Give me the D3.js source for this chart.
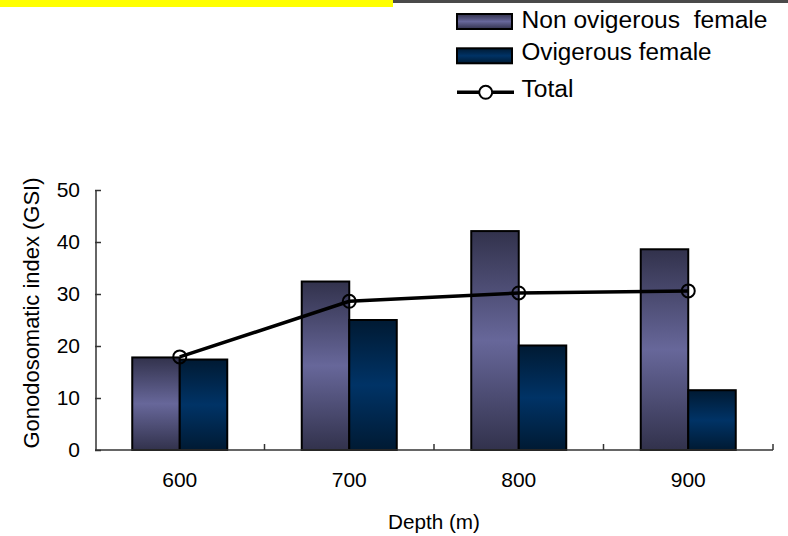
<!DOCTYPE html>
<html><head><meta charset="utf-8">
<script src="https://cdn.jsdelivr.net/npm/d3@7"></script>
<style>html,body{margin:0;padding:0;background:#fff}svg{display:block}text{font-family:"Liberation Sans",Arial,sans-serif;fill:#000}</style>
</head><body>
<svg id="c" width="788" height="536"></svg>
<script>
const categories = ["600","700","800","900"];
const seriesNames = ["Non ovigerous  female","Ovigerous female"];
const nonOvigerous = [17.8, 32.4, 42.1, 38.6];
const ovigerous = [17.4, 25.0, 20.1, 11.5];
const total = [17.9, 28.6, 30.2, 30.6];
const yTicks = [0,10,20,30,40,50];
const lineName = "Total";
const xTitle = "Depth (m)";
const yTitle = "Gonodosomatic index (GSI)";

const svg = d3.select("#c");
const defs = svg.append("defs");
function grad(id, edge, mid){
  const g = defs.append("linearGradient").attr("id",id).attr("x1",0).attr("y1",0).attr("x2",0).attr("y2",1);
  g.append("stop").attr("offset","0%").attr("stop-color",edge);
  g.append("stop").attr("offset","50%").attr("stop-color",mid);
  g.append("stop").attr("offset","100%").attr("stop-color",edge);
}
grad("gNon","#32324c","#67679a");
grad("gOv","#001a33","#003366");
const fills = ["url(#gNon)","url(#gOv)"];

// top decorations
svg.append("rect").attr("x",0).attr("y",0).attr("width",393).attr("height",7).attr("fill","#ffff00");
svg.append("rect").attr("x",393).attr("y",0).attr("width",395).attr("height",3).attr("fill","#4a4a4a");

const x0 = d3.scaleBand().domain(categories).range([95,773]).padding(0);
const x1 = d3.scaleBand().domain([0,1]).range([0,x0.bandwidth()]).paddingInner(0).paddingOuter(0.784);
const y = d3.scaleLinear().domain([0,50]).range([450,190]);

const data = categories.map((c,i)=>({c, vals:[nonOvigerous[i], ovigerous[i]]}));
const grp = svg.append("g").selectAll("g").data(data).join("g")
  .attr("transform",d=>`translate(${x0(d.c)},0)`);
grp.selectAll("rect").data(d=>d.vals.map((v,k)=>({v,k}))).join("rect")
  .attr("x",d=>x1(d.k)).attr("width",x1.bandwidth())
  .attr("y",d=>y(d.v)).attr("height",d=>y(0)-y(d.v))
  .attr("fill",d=>fills[d.k]).attr("stroke","#000").attr("stroke-width",2);

// axes
const yAxis = d3.axisLeft(y).tickValues(yTicks).tickSize(-6).tickPadding(20);
const gy = svg.append("g").attr("transform","translate(95,0)").call(yAxis);
gy.select(".domain").attr("stroke","#333").attr("stroke-width",1.5).attr("d","M1,190V450");
gy.selectAll(".tick line").attr("stroke","#333").attr("stroke-width",1.5);
gy.selectAll(".tick text").attr("font-size",21).attr("font-family","Liberation Sans, Arial").attr("fill","#000").attr("x",-15);

const xb = d3.scaleLinear().domain([0,4]).range([95,773]);
const gx = svg.append("g").attr("transform","translate(0,450)");
gx.append("line").attr("x1",95).attr("x2",773).attr("y1",0).attr("y2",0).attr("stroke","#333").attr("stroke-width",1.5);
gx.selectAll("line.t").data(d3.range(1,5)).join("line").attr("class","t")
  .attr("x1",d=>xb(d)).attr("x2",d=>xb(d)).attr("y1",0).attr("y2",-6).attr("stroke","#333").attr("stroke-width",1.5);
gx.selectAll("text").data(categories).join("text")
  .attr("x",d=>x0(d)+x0.bandwidth()/2).attr("y",36.5).attr("text-anchor","middle").attr("font-size",21).text(d=>d);

// line
const cx = d=>x0(d)+x0.bandwidth()/2;
const lineData = categories.map((c,i)=>({c,v:total[i]}));
svg.append("path").datum(lineData)
  .attr("d",d3.line().x(d=>cx(d.c)).y(d=>y(d.v)))
  .attr("fill","none").attr("stroke","#000").attr("stroke-width",3.5);
svg.selectAll("circle.pt").data(lineData).join("circle").attr("class","pt")
  .attr("cx",d=>cx(d.c)).attr("cy",d=>y(d.v)).attr("r",6.5)
  .attr("fill","none").attr("stroke","#000").attr("stroke-width",2);

// titles
svg.append("text").attr("x",434).attr("y",529).attr("text-anchor","middle").attr("font-size",21)
  .attr("textLength",92).attr("lengthAdjust","spacingAndGlyphs").text(xTitle);
svg.append("text").attr("transform","translate(39,313) rotate(-90)").attr("text-anchor","middle").attr("font-size",22)
  .attr("textLength",271).attr("lengthAdjust","spacingAndGlyphs").text(yTitle);

// legend
const lg = svg.append("g");
const legendRows = [
  {name:seriesNames[0], fill:fills[0], yc:21.5, base:28, w:246},
  {name:seriesNames[1], fill:fills[1], yc:55.8, base:60, w:190},
];
legendRows.forEach(r=>{
  lg.append("rect").attr("x",457).attr("y",r.yc-7.5).attr("width",55).attr("height",15)
    .attr("fill",r.fill).attr("stroke","#000").attr("stroke-width",2);
  lg.append("text").attr("x",521.5).attr("y",r.base).attr("font-size",23.5)
    .attr("textLength",r.w).attr("lengthAdjust","spacingAndGlyphs").attr("xml:space","preserve")
    .style("white-space","pre").text(r.name);
});
lg.append("line").attr("x1",457).attr("x2",514).attr("y1",92.3).attr("y2",92.3).attr("stroke","#000").attr("stroke-width",3.5);
lg.append("circle").attr("cx",485.7).attr("cy",92.3).attr("r",6.5).attr("fill","#fff").attr("stroke","#000").attr("stroke-width",2);
lg.append("text").attr("x",521.5).attr("y",96.5).attr("font-size",23.5).attr("textLength",52).attr("lengthAdjust","spacingAndGlyphs").text(lineName);
</script>
</body></html>
